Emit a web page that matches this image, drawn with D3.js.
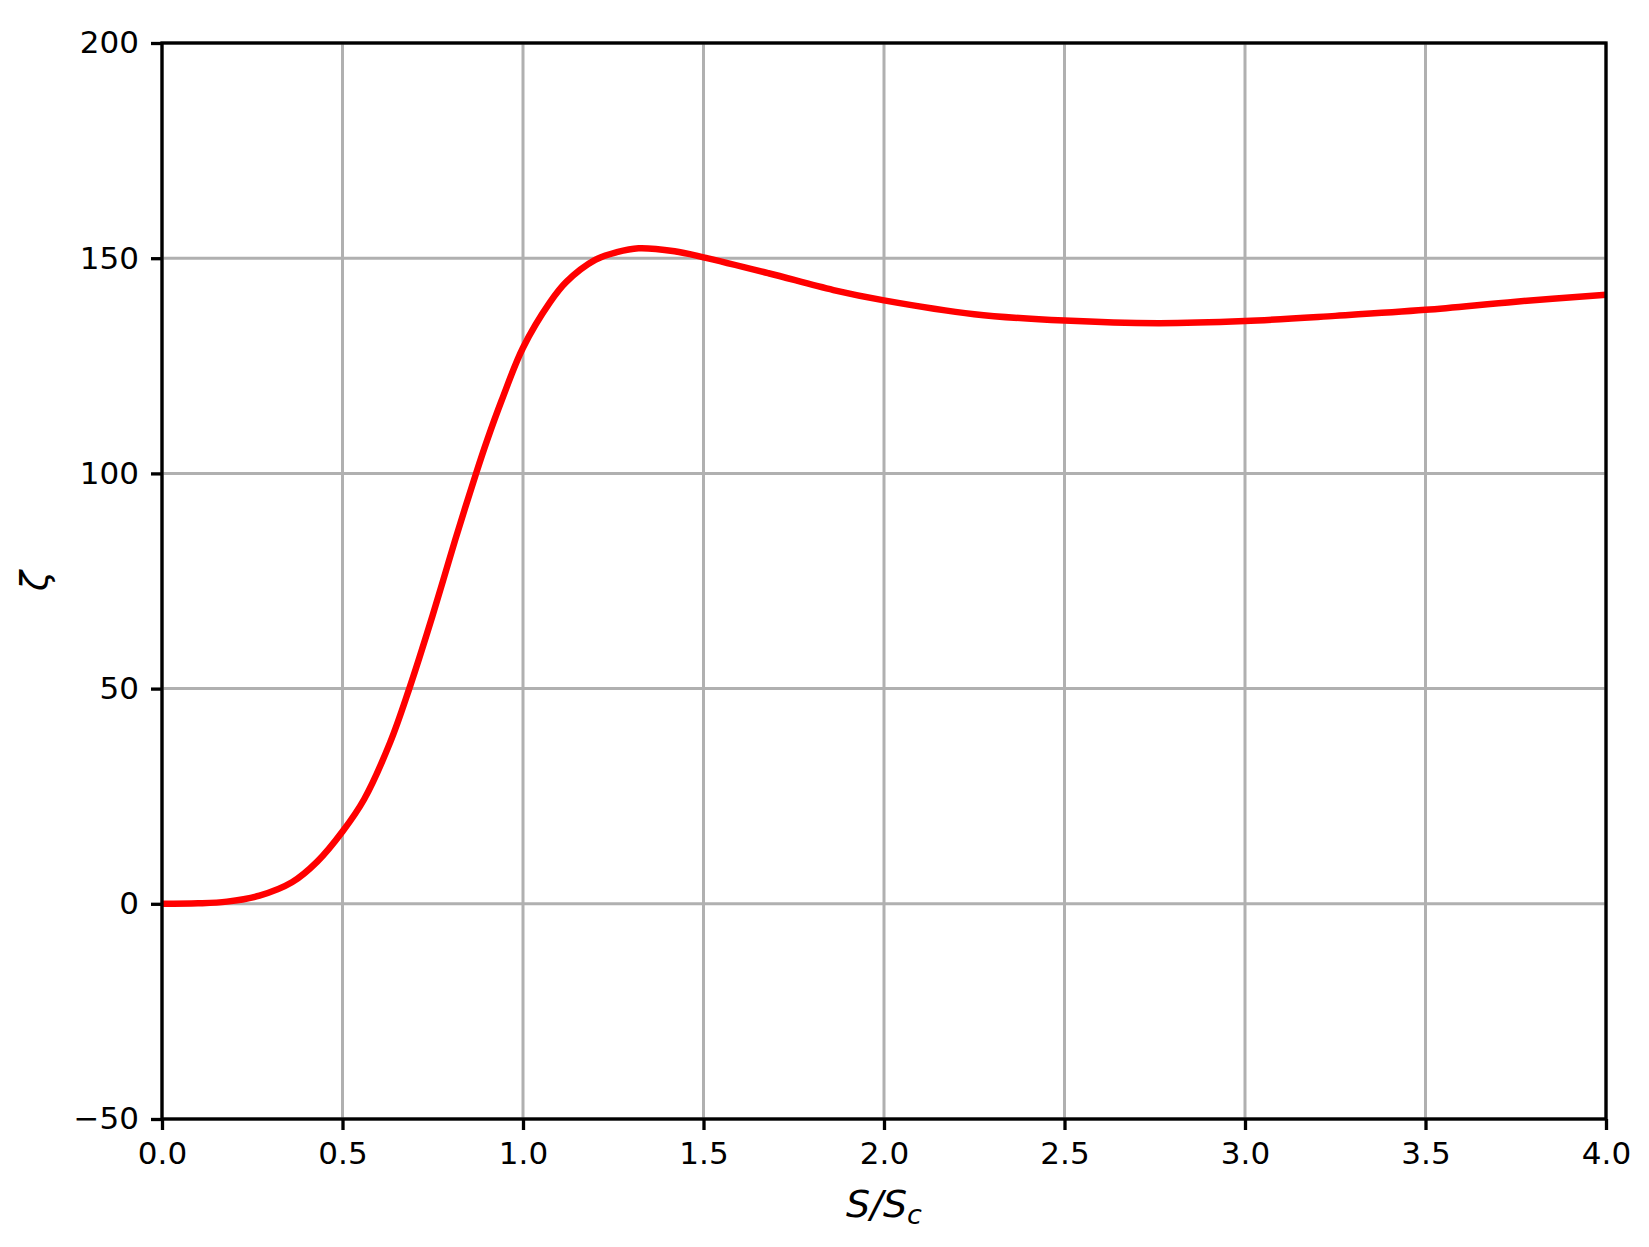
<!DOCTYPE html>
<html>
<head>
<meta charset="utf-8">
<script src="https://cdn.jsdelivr.net/npm/d3@7"></script>
<style>
  body { margin: 0; background: #fff; }
  svg { display: block; font-family: "DejaVu Sans", sans-serif; }
  .axis text { font-family: "DejaVu Sans", sans-serif; font-size: 31px; fill: #000; }
  .axis path, .axis line { stroke: #000; stroke-width: 3.3px; }
  .grid line { stroke: #b0b0b0; stroke-width: 3px; }
</style>
</head>
<body>
<div id="chart"></div>
<script>
// curve
var sVals = [0, 0.1, 0.18, 0.27, 0.36, 0.43, 0.5, 0.56, 0.632, 0.685, 0.733, 0.779, 0.812, 0.87, 0.901, 0.941, 1.0,
             1.075, 1.12, 1.2, 1.26, 1.32, 1.42, 1.5, 1.68, 1.86, 2.0, 2.25, 2.5, 2.76, 3.0, 3.25, 3.5, 3.75, 4.0];
var zetaVals = [0, 0.1, 0.5, 1.9, 5.0, 9.8, 16.8, 24.3, 37.5, 50, 62.5, 75.2, 84.5, 100, 107.8, 117.0, 129.2,
                139.8, 144.5, 149.6, 151.4, 152.3, 151.6, 150.2, 146.5, 142.6, 140.2, 137.0, 135.5, 134.9, 135.4, 136.6, 138.0, 139.9, 141.5];
var xTicks = [0, 0.5, 1, 1.5, 2, 2.5, 3, 3.5, 4];
var yTicks = [-50, 0, 50, 100, 150, 200];

var width = 1649, height = 1247;
var mLeft = 162, mRight = 1606, mTop = 43, mBottom = 1119;

var svg = d3.select('#chart')
    .append('svg')
    .attr('width', width)
    .attr('height', height);

var xScale = d3.scaleLinear().domain([0, 4]).range([mLeft, mRight]);
var yScale = d3.scaleLinear().domain([-50, 200]).range([mBottom, mTop]);

// grid
var grid = svg.append('g').attr('class', 'grid');
grid.selectAll('.gx').data(xTicks).enter().append('line')
    .attr('x1', function(d) { return xScale(d); })
    .attr('x2', function(d) { return xScale(d); })
    .attr('y1', mTop).attr('y2', mBottom);
grid.selectAll('.gy').data(yTicks).enter().append('line')
    .attr('y1', function(d) { return yScale(d); })
    .attr('y2', function(d) { return yScale(d); })
    .attr('x1', mLeft).attr('x2', mRight);

var points = sVals.map(function(s, i) { return { s: s, z: zetaVals[i] }; });

var line = d3.line()
    .x(function(d) { return xScale(d.s); })
    .y(function(d) { return yScale(d.z); })
    .curve(d3.curveCatmullRom.alpha(0.5));

svg.append('path')
    .datum(points)
    .attr('d', line)
    .attr('fill', 'none')
    .attr('stroke', '#ff0000')
    .attr('stroke-width', 6.5)
    .attr('stroke-linejoin', 'round');

// axes
var xAxis = d3.axisBottom(xScale).tickValues(xTicks).tickFormat(d3.format('.1f')).tickSize(11).tickPadding(12);
var yAxis = d3.axisLeft(yScale).tickValues(yTicks).tickFormat(d3.format('d')).tickSize(11).tickPadding(12);

svg.append('g')
    .attr('class', 'x axis')
    .attr('transform', 'translate(0,' + mBottom + ')')
    .call(xAxis)
    .call(function(g) { g.select('.domain').remove(); });

svg.append('g')
    .attr('class', 'y axis')
    .attr('transform', 'translate(' + mLeft + ',0)')
    .call(yAxis)
    .call(function(g) { g.select('.domain').remove(); });

// spines
svg.append('rect')
    .attr('x', mLeft).attr('y', mTop)
    .attr('width', mRight - mLeft).attr('height', mBottom - mTop)
    .attr('fill', 'none')
    .attr('stroke', '#000')
    .attr('stroke-width', 3.3);

// labels
var xl = svg.append('text')
    .attr('x', (mLeft + mRight) / 2)
    .attr('y', 1217)
    .attr('text-anchor', 'middle')
    .style('font-size', '38px')
    .style('font-style', 'italic');
xl.append('tspan').text('S/S');
xl.append('tspan').attr('dy', 7).style('font-size', '27px').text('c');

svg.append('text')
    .attr('transform', 'translate(47,' + ((mTop + mBottom) / 2) + ') rotate(-90)')
    .attr('text-anchor', 'middle')
    .style('font-size', '37px')
    .style('font-style', 'italic')
    .text('ζ');
</script>
</body>
</html>
